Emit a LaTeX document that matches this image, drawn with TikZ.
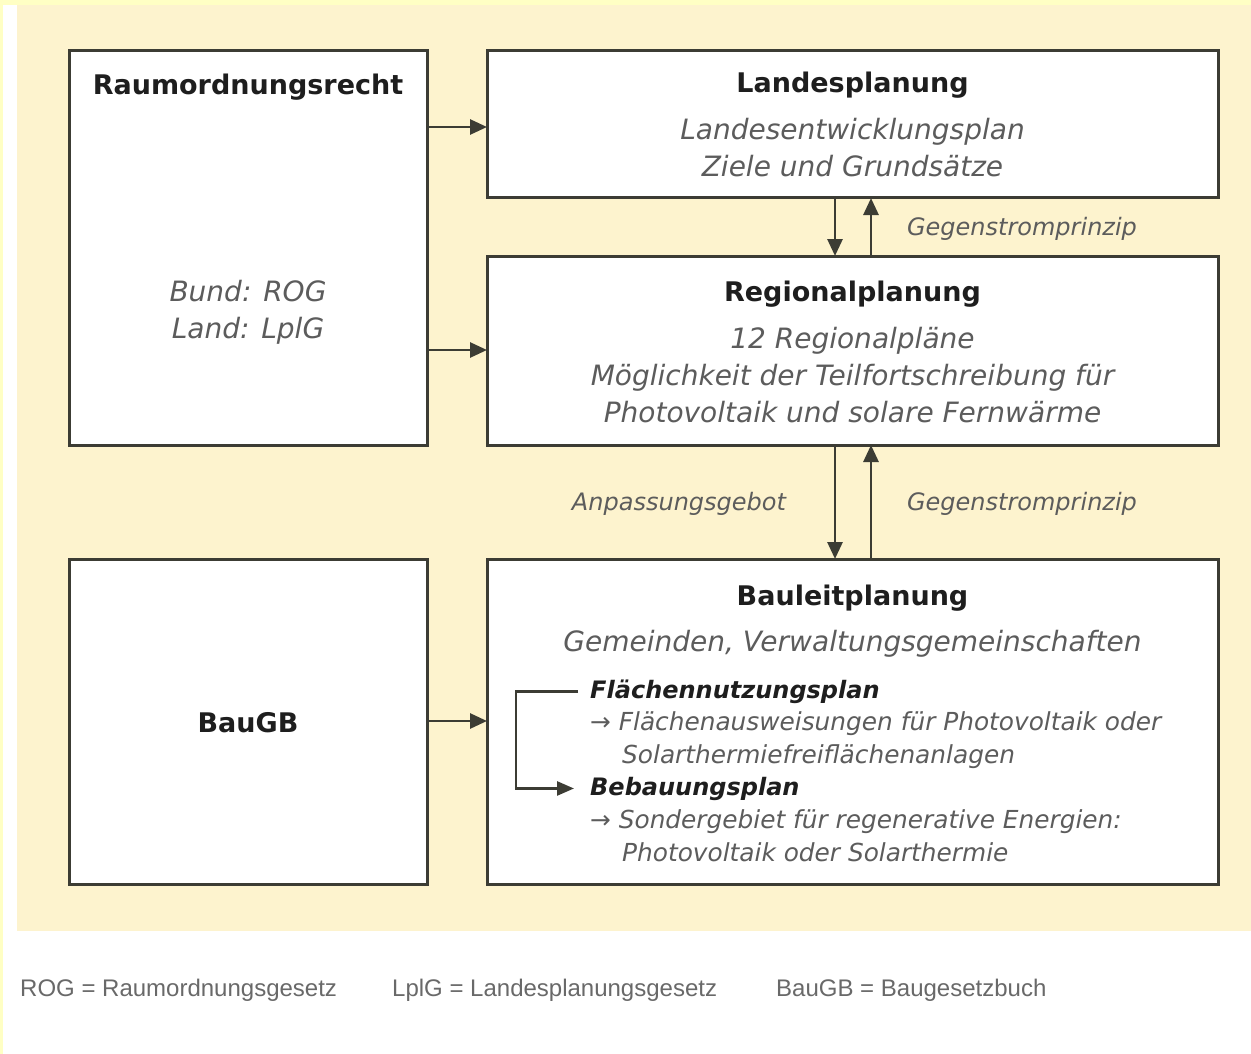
\documentclass[tikz,border=0pt]{standalone}
\usepackage{fontspec}
\setmainfont{DejaVu Sans}
\newfontfamily\legendfont{Liberation Sans}
\usetikzlibrary{arrows.meta}
\definecolor{bgbeige}{RGB}{253,243,206}
\definecolor{edgeyellow}{RGB}{255,255,196}
\definecolor{boxline}{RGB}{60,60,52}
\definecolor{headtext}{RGB}{30,30,30}
\definecolor{bodytext}{RGB}{92,92,92}
\definecolor{legendtext}{RGB}{105,105,105}
\begin{document}
\begin{tikzpicture}[x=1pt,y=-1pt,
 panel/.style={draw=boxline, line width=3pt, fill=white, rectangle, inner sep=0pt, outer sep=0pt},
 head/.style={font=\fontsize{27}{32}\selectfont\bfseries, text=headtext, anchor=base, inner sep=0pt},
 body/.style={font=\fontsize{28}{33}\selectfont\itshape, text=bodytext, anchor=base, inner sep=0pt},
 lbl/.style={font=\fontsize{24}{28}\selectfont\itshape, text=bodytext, anchor=base, inner sep=0pt},
 subhead/.style={font=\fontsize{24}{28}\selectfont\bfseries\itshape, text=headtext, anchor=base west, inner sep=0pt},
 item/.style={font=\fontsize{24.8}{28}\selectfont\itshape, text=bodytext, anchor=base west, inner sep=0pt},
 legend/.style={font=\legendfont\fontsize{24}{28}\selectfont, text=legendtext, anchor=base west, inner sep=0pt},
 arr/.style={draw=boxline, line width=2.8pt, -{Triangle[length=17pt,width=15pt]}},
]
\useasboundingbox (0,0) rectangle (1251,1054);
% background
\fill[edgeyellow] (0,0) rectangle (1251,1054);
\fill[white] (3,5) rectangle (1251,1054);
\fill[bgbeige] (17,5) rectangle (1251,931);

% boxes
\node[panel, minimum width=358, minimum height=394] (raum) at (248,248) {};
\node[panel, minimum width=731, minimum height=147] (landes) at (852.5,124.5) {};
\node[panel, minimum width=731, minimum height=189] (regional) at (852.5,350.5) {};
\node[panel, minimum width=358, minimum height=325] (baugb) at (248,721.5) {};
\node[panel, minimum width=731, minimum height=325] (bauleit) at (852.5,721.5) {};

% texts: Raumordnungsrecht
\node[head] (t-raum) at (248,95) {Raumordnungsrecht};
\node[body] (t-bund) at (248,301) {Bund: ROG};
\node[body] (t-land) at (248,338) {Land: LplG};
% Landesplanung
\node[head] (t-landes) at (852.5,93) {Landesplanung};
\node[body] (t-lep) at (852.5,140) {Landesentwicklungsplan};
\node[body] (t-ziele) at (852.5,177) {Ziele und Grundsätze};
% Regionalplanung
\node[head] (t-reg) at (852.5,301) {Regionalplanung};
\node[body] (t-reg1) at (852.5,348) {12 Regionalpläne};
\node[body] (t-reg2) at (852.5,385) {Möglichkeit der Teilfortschreibung für};
\node[body] (t-reg3) at (852.5,422) {Photovoltaik und solare Fernwärme};
% BauGB
\node[head] (t-baugb) at (248,732) {BauGB};
% Bauleitplanung
\node[head] (t-bauleit) at (852.5,605) {Bauleitplanung};
\node[body] (t-gem) at (852.5,651) {Gemeinden, Verwaltungsgemeinschaften};
\node[subhead] (fnp) at (590,698) {Flächennutzungsplan};
\node[item] (fnp1) at (590,730) {→ Flächenausweisungen für Photovoltaik oder};
\node[item] (fnp2) at (622,763) {Solarthermiefreiflächenanlagen};
\node[subhead] (bbp) at (590,795) {Bebauungsplan};
\node[item] (bbp1) at (590,828) {→ Sondergebiet für regenerative Energien:};
\node[item] (bbp2) at (622,861) {Photovoltaik oder Solarthermie};

% labels
\node[lbl] (g1) at (1022,236) {Gegenstromprinzip};
\node[lbl] (g2) at (1022,510) {Gegenstromprinzip};
\node[lbl] (anp) at (679,510) {Anpassungsgebot};

% helper coordinates
\coordinate (ya) at (0,127);
\coordinate (yb) at (0,350);
\coordinate (yc) at (0,721);
\coordinate (xd) at (835,0);
\coordinate (xu) at (871,0);

% connectors
\draw[arr] (raum.east |- ya) -- (landes.west |- ya);
\draw[arr] (raum.east |- yb) -- (regional.west |- yb);
\draw[arr] (baugb.east |- yc) -- (bauleit.west |- yc);
\draw[arr] (landes.south -| xd) -- (regional.north -| xd);
\draw[arr] (regional.north -| xu) -- (landes.south -| xu);
\draw[arr] (regional.south -| xd) -- (bauleit.north -| xd);
\draw[arr] (bauleit.north -| xu) -- (regional.south -| xu);
\draw[draw=boxline, line width=2.6pt, -{Triangle[length=17pt,width=14pt]}]
  ([xshift=-12pt]fnp.west) -- ++(-62,0) |- ([xshift=-16pt]bbp.west);

% legend
\node[legend] (l1) at (20,996) {ROG = Raumordnungsgesetz};
\node[legend] (l2) at (392,996) {LplG = Landesplanungsgesetz};
\node[legend] (l3) at (776,996) {BauGB = Baugesetzbuch};
\end{tikzpicture}
\end{document}
